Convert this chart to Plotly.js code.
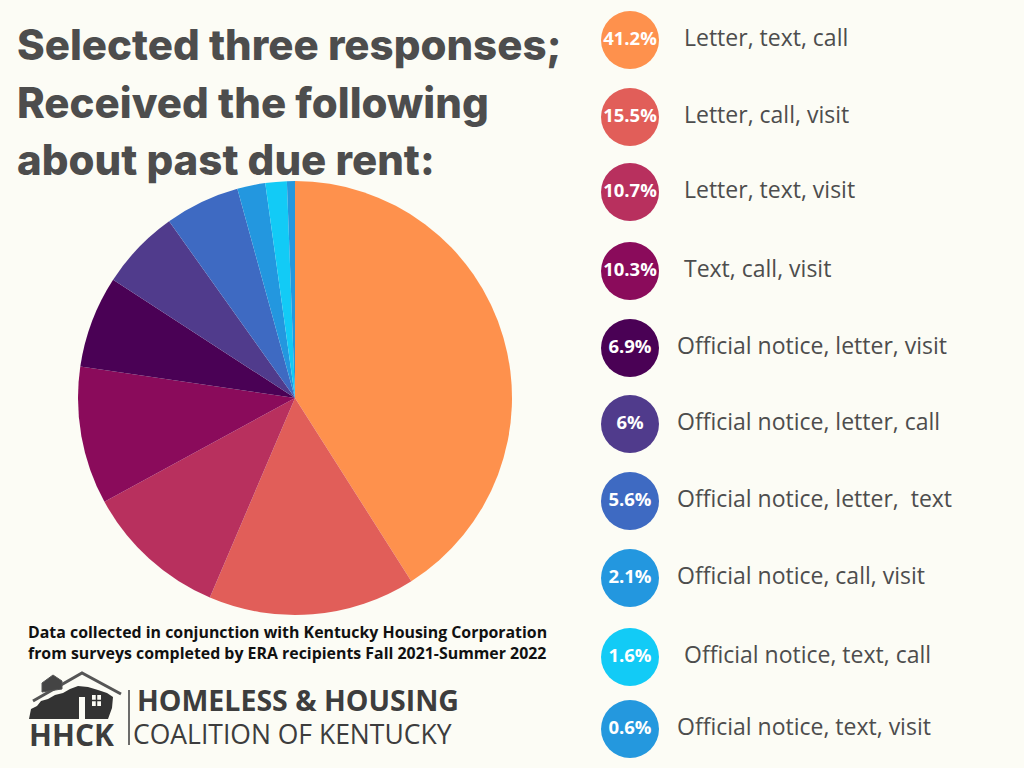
<!DOCTYPE html>
<html>
<head>
<meta charset="utf-8">
<script src="https://cdn.plot.ly/plotly-3.0.1.min.js"></script>
<style>
html,body{margin:0;padding:0;background:#fcfcf5;}
#chart{width:1024px;height:768px;}
</style>
</head>
<body>
<div id="chart"></div>
<script>
// ---- data ----
const responses = [
  "Letter, text, call",
  "Letter, call, visit",
  "Letter, text, visit",
  "Text, call, visit",
  "Official notice, letter, visit",
  "Official notice, letter, call",
  "Official notice, letter,  text",
  "Official notice, call, visit",
  "Official notice, text, call",
  "Official notice, text, visit"
];
const percents = [41.2, 15.5, 10.7, 10.3, 6.9, 6, 5.6, 2.1, 1.6, 0.6];
const colors = ["#fe914d","#e15e59","#b8305e","#8a0b5b","#4a0155","#503b8c","#3e6ac2","#2397df","#12cbf6","#2498de"];
const titleLines = ["Selected three responses;", "Received the following", "about past due rent:"];
const sourceText = "Data collected in conjunction with Kentucky Housing Corporation<br>from surveys completed by ERA recipients Fall 2021-Summer 2022";

// ---- layout constants (pixels) ----
const W = 1024, H = 768;
const rowY = [40, 117, 192, 271, 348, 424, 501, 578, 657, 729];
const labelX = [684, 684, 684, 684, 677, 677, 677, 677, 684, 677];
const titleY = [44, 102, 159];
const circleX = 630;
const cx = 295, cy = 398, r = 217;
const bg = "#fcfcf5";
const gray = "#4d4d4d";
const logoGray = "#3d3d3d";

const pie = {
  type: "pie",
  values: percents,
  labels: responses,
  sort: false,
  direction: "clockwise",
  rotation: 0,
  marker: {colors: colors, line: {width: 0}},
  textinfo: "none",
  hoverinfo: "label+value",
  showlegend: false,
  domain: {x: [(cx - r) / W, (cx + r) / W], y: [1 - (cy + r) / H, 1 - (cy - r) / H]}
};

const circles = {
  type: "scatter",
  mode: "markers+text",
  x: rowY.map(() => circleX),
  y: rowY,
  marker: {size: 58, color: colors, line: {width: 0}},
  text: percents.map(p => p + "%"),
  textposition: "middle center",
  textfont: {family: "Open Sans", size: 18.5, color: "#ffffff", weight: 700},
  hoverinfo: "skip",
  showlegend: false,
  cliponaxis: false
};

const labelsTrace = {
  type: "scatter",
  mode: "text",
  x: labelX,
  y: rowY,
  text: responses,
  textposition: "middle right",
  textfont: {family: "Open Sans", size: 23, color: gray, weight: 500},
  hoverinfo: "skip",
  showlegend: false,
  cliponaxis: false
};

const annotations = titleLines.map((t, i) => ({
  xref: "x", yref: "y", x: 15, y: titleY[i], xanchor: "left", yanchor: "middle", align: "left",
  text: t, showarrow: false,
  font: {family: "Inter", size: 42, color: gray, weight: 800}
}));
annotations.push(
  {xref: "x", yref: "y", x: 26, y: 642, xanchor: "left", yanchor: "middle", align: "left",
   text: sourceText, showarrow: false,
   font: {family: "Open Sans", size: 15.9, color: "#111111", weight: 700}},
  {xref: "x", yref: "y", x: 135, y: 700, xanchor: "left", yanchor: "middle", align: "left",
   text: "<b>HOMELESS &amp; HOUSING</b>", showarrow: false,
   font: {family: "Open Sans", size: 28.5, color: logoGray}},
  {xref: "x", yref: "y", x: 131, y: 734, xanchor: "left", yanchor: "middle", align: "left",
   text: "COALITION OF KENTUCKY", showarrow: false,
   font: {family: "Open Sans", size: 26.5, color: logoGray}},
  {xref: "x", yref: "y", x: 27, y: 734, xanchor: "left", yanchor: "middle",
   text: "<b>HHCK</b>", showarrow: false,
   font: {family: "Open Sans", size: 30, color: logoGray}}
);

const layout = {
  width: W, height: H,
  margin: {l: 0, r: 0, t: 0, b: 0},
  paper_bgcolor: bg, plot_bgcolor: "rgba(0,0,0,0)",
  xaxis: {range: [0, W], visible: false, fixedrange: true},
  yaxis: {range: [H, 0], visible: false, fixedrange: true},
  annotations: annotations,
  shapes: [
    // house body (Kentucky-like silhouette)
    {type: "path", xref: "x", yref: "y",
     path: "M 29 719 L 31 709 L 37 706 L 41 701 L 48 699 L 55 695 L 63 693 L 70 689 L 78 686 L 88 687 L 98 690 L 107 693 L 113 697 L 112 708 L 108 719 Z",
     fillcolor: "#333333", line: {width: 0}},
    // main roof
    {type: "path", xref: "x", yref: "y",
     path: "M 33 701 L 82 673 L 121 694", line: {color: "#555555", width: 3}},
    // small gable house
    {type: "path", xref: "x", yref: "y",
     path: "M 42 692 L 42 683 L 53 675 L 62 681 L 62 689 Z",
     fillcolor: "#444444", line: {color: "#555555", width: 1}},
    // door
    {type: "rect", xref: "x", yref: "y", x0: 79, x1: 85, y0: 697, y1: 719, fillcolor: bg, line: {width: 0}},
    // window
    {type: "rect", xref: "x", yref: "y", x0: 92, x1: 101, y0: 695, y1: 706, fillcolor: bg, line: {width: 0}},
    {type: "line", xref: "x", yref: "y", x0: 96.5, x1: 96.5, y0: 695, y1: 706, line: {color: "#333333", width: 1.5}},
    {type: "line", xref: "x", yref: "y", x0: 92, x1: 101, y0: 700.5, y1: 700.5, line: {color: "#333333", width: 1.5}},
    // separator
    {type: "line", xref: "x", yref: "y", x0: 129, x1: 129, y0: 690, y1: 745, line: {color: logoGray, width: 1.5}}
  ]
};

Plotly.newPlot("chart", [pie, circles, labelsTrace], layout, {displayModeBar: false, staticPlot: true});
</script>
</body>
</html>
